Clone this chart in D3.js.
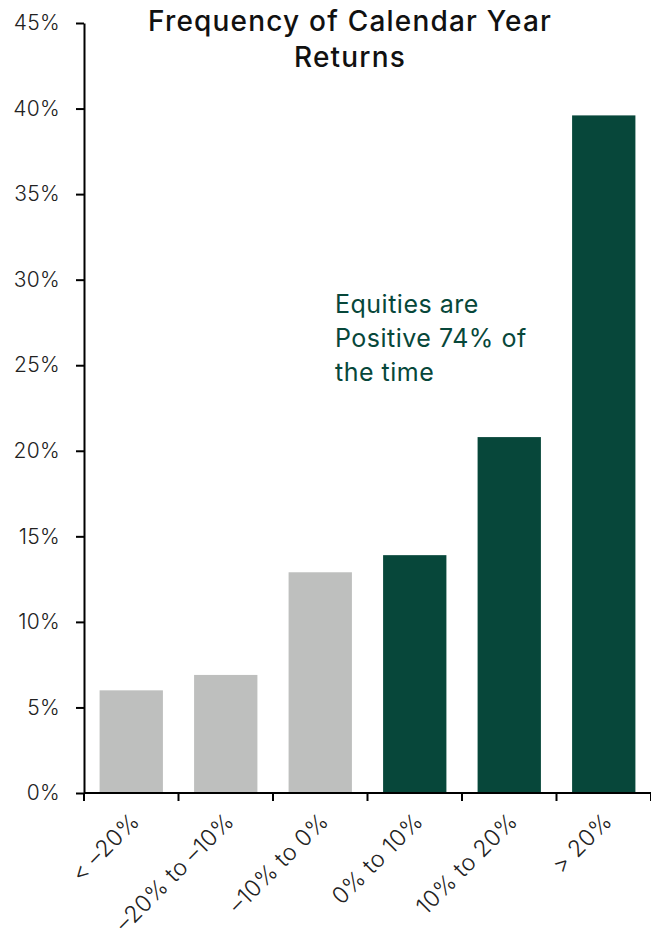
<!DOCTYPE html>
<html>
<head>
<meta charset="utf-8">
<script src="https://cdn.jsdelivr.net/npm/d3@7"></script>
<style>
  body { margin: 0; background: #fff; }
  svg text { font-family: Inter, "Open Sans", sans-serif; }
</style>
</head>
<body>
<div id="chart"></div>
<script>
// chart data
const categories = ['< -20%', '-20% to -10%', '-10% to 0%', '0% to 10%', '10% to 20%', '> 20%'];
const values = [6.0, 6.9, 12.9, 13.9, 20.8, 39.6];
const positive = [false, false, false, true, true, true];
const yTicks = [0, 5, 10, 15, 20, 25, 30, 35, 40, 45];

const width = 651, height = 936;
const margin = { top: 23, right: 0, bottom: 143, left: 84 };

const svg = d3.select('#chart').append('svg')
    .attr('width', width)
    .attr('height', height);

const x = d3.scaleBand()
    .domain(categories)
    .range([margin.left, width - margin.right])
    .paddingInner(0.33)
    .paddingOuter(0.165);

const y = d3.scaleLinear()
    .domain([0, 45])
    .range([height - margin.bottom, margin.top]);

// bars
svg.selectAll('rect.bar')
    .data(values)
    .enter()
    .append('rect')
    .attr('class', 'bar')
    .attr('x', (d, i) => x(categories[i]))
    .attr('y', d => y(d))
    .attr('width', x.bandwidth())
    .attr('height', d => y(0) - y(d))
    .attr('fill', (d, i) => positive[i] ? '#07473a' : '#bebfbe');

// y axis
const yAxis = svg.append('g')
    .attr('transform', `translate(${margin.left},0)`)
    .call(d3.axisLeft(y).tickValues(yTicks).tickFormat(d => d + '%').tickSize(8).tickSizeOuter(0));
yAxis.select('.domain').attr('stroke', '#000').attr('stroke-width', 2);
yAxis.selectAll('.tick line').attr('stroke', '#000').attr('stroke-width', 2);
yAxis.selectAll('.tick text')
    .attr('x', -24)
    .attr('font-size', 21)
    .attr('font-weight', 300)
    .attr('letter-spacing', 0.3)
    .attr('fill', '#222');

// x axis: ticks at band boundaries
const step = x.step();
const bounds = d3.range(categories.length + 1).map(i => margin.left + i * step);
const xg = svg.append('g');
xg.append('line')
    .attr('x1', margin.left).attr('x2', width - margin.right)
    .attr('y1', y(0)).attr('y2', y(0))
    .attr('stroke', '#000').attr('stroke-width', 2);
xg.selectAll('line.tk')
    .data(bounds)
    .enter()
    .append('line')
    .attr('class', 'tk')
    .attr('x1', d => d).attr('x2', d => d)
    .attr('y1', y(0)).attr('y2', y(0) + 8)
    .attr('stroke', '#000').attr('stroke-width', 2);

xg.selectAll('text.lbl')
    .data(categories)
    .enter()
    .append('text')
    .attr('class', 'lbl')
    .attr('transform', d => `translate(${x(d) + x.bandwidth() / 2 + 4},${y(0) + 24}) rotate(-45)`)
    .attr('text-anchor', 'end')
    .attr('dy', '0.35em')
    .attr('font-size', 23)
    .attr('font-weight', 300)
    .attr('letter-spacing', 0.4)
    .attr('fill', '#222')
    .text(d => d.replace(/-/g, '\u2013'));

// title
svg.append('text')
    .attr('x', 350).attr('y', 31)
    .attr('text-anchor', 'middle')
    .attr('font-size', 28)
    .attr('font-weight', 500)
    .attr('letter-spacing', 1.2)
    .attr('fill', '#111')
    .selectAll('tspan')
    .data(['Frequency of Calendar Year', 'Returns'])
    .enter()
    .append('tspan')
    .attr('x', 350)
    .attr('dy', (d, i) => i ? 36 : 0)
    .text(d => d);

// annotation
svg.append('text')
    .attr('x', 335).attr('y', 313)
    .attr('font-size', 25)
    .attr('letter-spacing', 0.5)
    .attr('fill', '#07473a')
    .selectAll('tspan')
    .data(['Equities are', 'Positive 74% of', 'the time'])
    .enter()
    .append('tspan')
    .attr('x', 335)
    .attr('dy', (d, i) => i ? 34 : 0)
    .text(d => d);
</script>
</body>
</html>
